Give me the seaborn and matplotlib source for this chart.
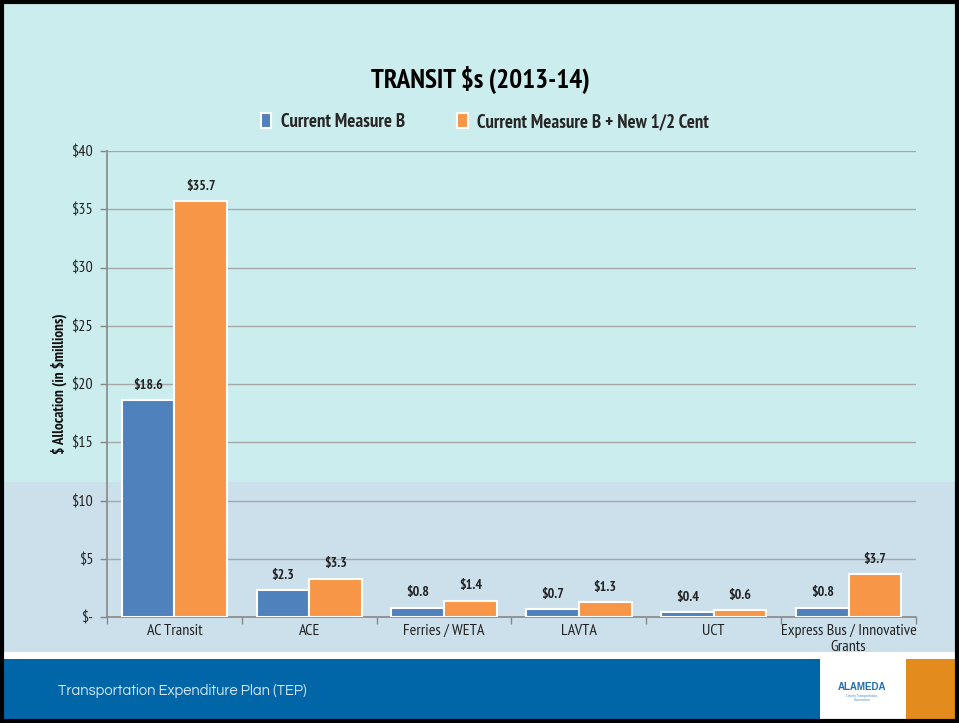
import matplotlib
matplotlib.use('Agg')
import matplotlib.pyplot as plt
from matplotlib.patches import Rectangle
import seaborn as sns
import pandas as pd

categories = ['AC Transit', 'ACE', 'Ferries / WETA', 'LAVTA', 'UCT',
              'Express Bus / Innovative\nGrants']
series_names = ['Current Measure B', 'Current Measure B + New 1/2 Cent']
current_b = [18.6, 2.3, 0.8, 0.7, 0.4, 0.8]
with_half_cent = [35.7, 3.3, 1.4, 1.3, 0.6, 3.7]
y_ticks = [0, 5, 10, 15, 20, 25, 30, 35, 40]
y_tick_labels = ['$-', '$5', '$10', '$15', '$20', '$25', '$30', '$35', '$40']

df = pd.DataFrame({
    'category': categories * 2,
    'series': [series_names[0]] * len(categories) + [series_names[1]] * len(categories),
    'value': current_b + with_half_cent,
})

sns.set_style('white')
narrow = ['PT Sans Narrow', 'Roboto Condensed', 'Liberation Sans', 'DejaVu Sans']
plt.rcParams['font.family'] = narrow

fig = plt.figure(figsize=(9.59, 7.23), dpi=100)
W, H = 959, 723

def px_rect(x0, y0, x1, y1, color, z=-10):
    # rectangle given in pixel coords (y from top)
    r = Rectangle((x0 / W, 1 - y1 / H), (x1 - x0) / W, (y1 - y0) / H,
                  transform=fig.transFigure, facecolor=color, edgecolor='none', zorder=z)
    fig.patches.append(r)

fig.patch.set_facecolor('white')
px_rect(0, 0, W, 482, '#CCEDEE')
px_rect(0, 482, W, 652, '#CCE0EC')
px_rect(0, 659, 820, H, '#0066A8')
px_rect(906, 659, W, H, '#E38B1C')
fig.patches.append(Rectangle((0.002, 0.003), 0.996, 0.994, transform=fig.transFigure,
                             facecolor='none', edgecolor='black', linewidth=3, zorder=10))

ax = fig.add_axes([107 / W, 1 - 617 / H, (916 - 107) / W, (617 - 151) / H])
ax.set_facecolor('none')

sns.barplot(data=df, x='category', y='value', hue='series', ax=ax,
            palette=['#4F81BD', '#F79646'], width=0.78, dodge=True,
            edgecolor='white', linewidth=1.5, saturation=1, zorder=3)

for cont in ax.containers:
    ax.bar_label(cont, labels=[f'\\${v:.1f}' for v in cont.datavalues], padding=6,
                 fontsize=10, fontweight='bold', color='#222222')

ax.set_ylim(0, 40)
ax.set_yticks(y_ticks)
ax.set_yticklabels(y_tick_labels, fontsize=11.5, color='#222222')
ax.set_xlim(-0.5, len(categories) - 0.5)
ax.tick_params(axis='x', length=0, labelsize=11.5, labelcolor='#222222', pad=5)
ax.tick_params(axis='y', length=5, width=1, color='#888888', direction='out',
               left=True, pad=5)
ax.set_xticks([i - 0.5 for i in range(len(categories) + 1)], minor=True)
ax.tick_params(axis='x', which='minor', length=5, width=1, color='#888888',
               direction='out', bottom=True)
ax.grid(axis='y', color='#A6A6A6', linewidth=1, zorder=0)
ax.set_axisbelow(True)
for s in ['top', 'right']:
    ax.spines[s].set_visible(False)
for s in ['left', 'bottom']:
    ax.spines[s].set_color('#888888')
    ax.spines[s].set_linewidth(1.2)
ax.set_xlabel('')
ax.set_ylabel(r'\$ Allocation (in \$millions)', fontsize=11, fontweight='bold',
              color='#111111', labelpad=3)

ax.legend(loc='center', bbox_to_anchor=((485 - 107) / 809, 1 + 29 / 466), ncol=2,
          frameon=False, prop={'weight': 'bold', 'size': 13.5},
          handlelength=0.55, handleheight=0.8, columnspacing=2.8, handletextpad=0.5)

fig.text(480 / W, 1 - 80 / H, r'TRANSIT \$s (2013-14)', ha='center', va='center',
         fontsize=19.5, fontweight='bold', color='black')

fig.text(58 / W, 1 - 691 / H, 'Transportation Expenditure Plan (TEP)', ha='left',
         va='center', fontsize=10.5, color='#D6E6F4', family=['Questrial', 'DejaVu Sans'])

fig.text(862 / W, 1 - 687 / H, 'ALAMEDA', ha='center', va='center', fontsize=7,
         fontweight='bold', color='#1F6FB2', family=['Liberation Sans', 'DejaVu Sans'])
fig.text(862 / W, 1 - 698 / H, 'County Transportation\nCommission', ha='center',
         va='center', fontsize=3, color='#4A90C8', linespacing=1.0)

fig.savefig('out.png', dpi=100, facecolor=fig.get_facecolor())
